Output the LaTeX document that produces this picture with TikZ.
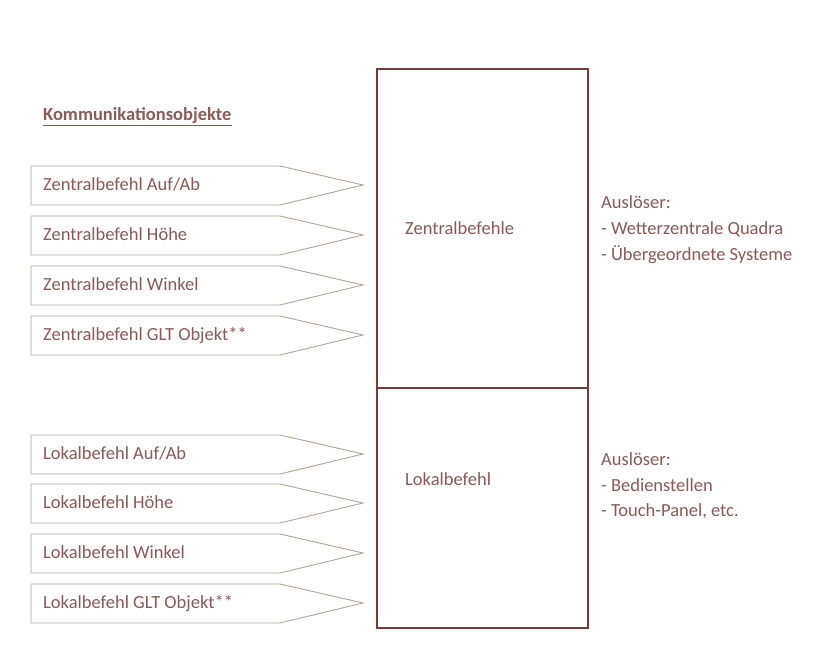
\documentclass[tikz,border=0pt]{standalone}
\usepackage{fontspec}
\setmainfont{Carlito}
\definecolor{txt}{HTML}{8A5A58}
\definecolor{pentline}{HTML}{B4A496}
\definecolor{boxline}{HTML}{7A3A3C}
\tikzset{
  lbl/.style={font=\fontsize{18.5}{22}\selectfont, text=txt, inner sep=0pt, anchor=base west},
  big/.style={lbl},
  pent/.style={draw=pentline, line width=0.9pt, line join=miter},
  mainbox/.style={draw=boxline, line width=1.1pt},
}
\begin{document}
\begin{tikzpicture}[x=1pt,y=-1pt]
\useasboundingbox[fill=white] (0,0) rectangle (821,660);
% main boxes
\draw[mainbox] (377,69) rectangle (588,388);
\draw[mainbox] (377,388) rectangle (588,628);
\node[big] (zb) at (405,234) {Zentralbefehle};
\node[big] (lb) at (405,485) {Lokalbefehl};
% heading
\node[big, font=\fontsize{18.5}{22}\selectfont\bfseries] (head) at (43,121) {Kommunikationsobjekte};
\draw[txt, line width=1.2pt] ([yshift=-4.5pt]head.base west) -- ([yshift=-4.5pt]head.base east);
% pentagons
\foreach \y/\t/\n in {185/{Zentralbefehl Auf/Ab}/z1, 235/{Zentralbefehl Höhe}/z2, 285/{Zentralbefehl Winkel}/z3, 335/{Zentralbefehl GLT Objekt**}/z4, 454/{Lokalbefehl Auf/Ab}/l1, 503/{Lokalbefehl Höhe}/l2, 553/{Lokalbefehl Winkel}/l3, 603/{Lokalbefehl GLT Objekt**}/l4}{
  \draw[pent] (31,{\y-19}) -- (280,{\y-19}) -- (363,\y) -- (280,{\y+20}) -- (31,{\y+20}) -- cycle;
  \node[lbl] (\n) at (43,{\y+5.5}) {\t};
}
% right texts
\node[big] (a1) at (601,209) {Auslöser:};
\node[big] (a2) at (601,235) {- Wetterzentrale Quadra};
\node[big] (a3) at (601,260.5) {- Übergeordnete Systeme};
\node[big] (b1) at (601,465.5) {Auslöser:};
\node[big] (b2) at (601,491) {- Bedienstellen};
\node[big] (b3) at (601,516.5) {- Touch-Panel, etc.};
\end{tikzpicture}
\end{document}
